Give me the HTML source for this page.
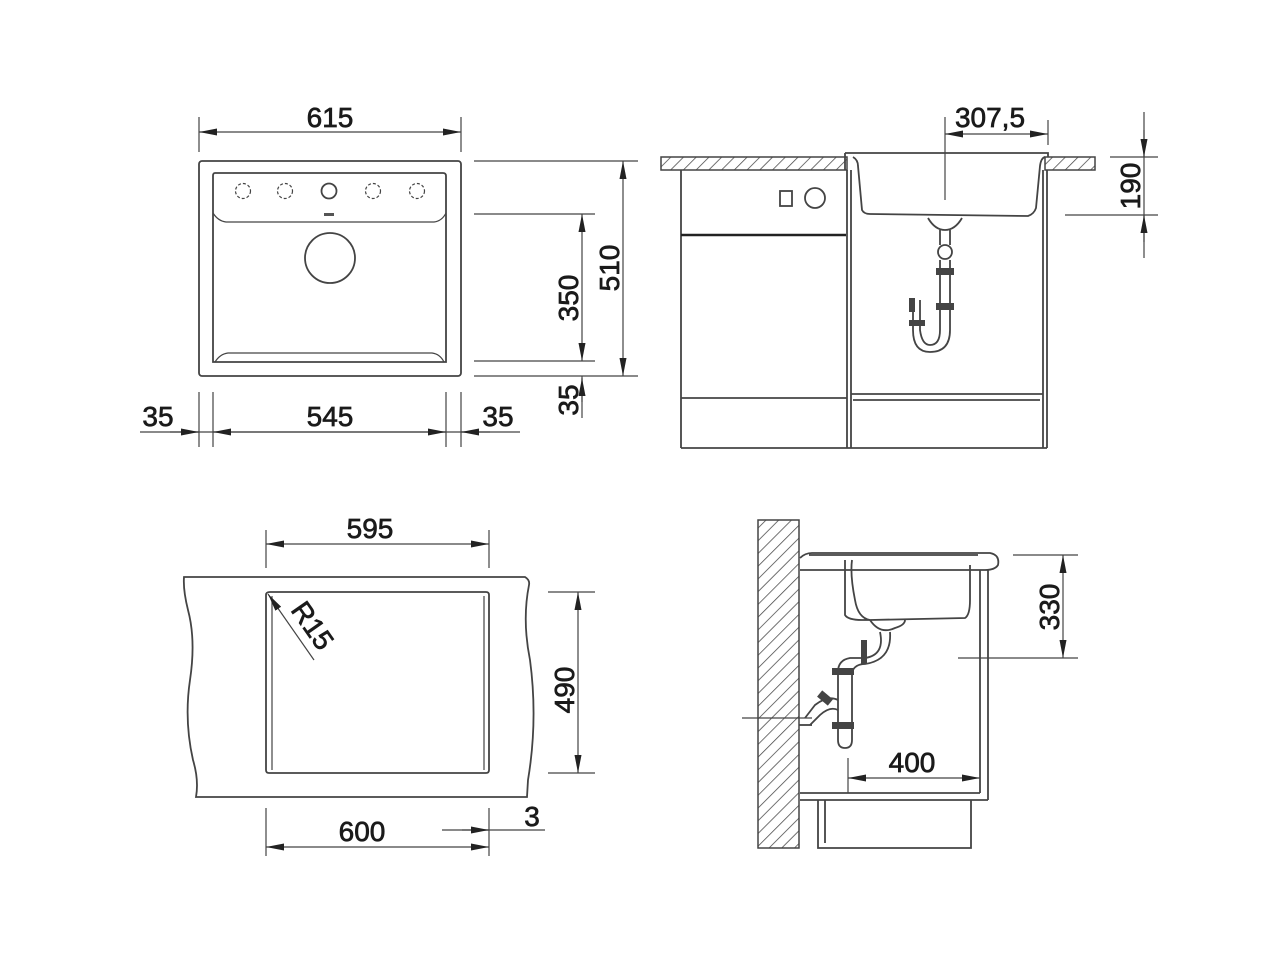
<!DOCTYPE html>
<html><head><meta charset="utf-8"><style>
html,body{margin:0;padding:0;background:#fff;}
svg{display:block;}
text{font-family:"Liberation Sans",Arial,sans-serif;font-size:28px;fill:#1a1a1a;stroke:#1a1a1a;stroke-width:0.7;}
.l{stroke:#444;stroke-width:1.8;fill:none;}
.t{stroke:#444;stroke-width:1.2;fill:none;}
</style></head><body>
<svg width="1280" height="975" viewBox="0 0 1280 975" xmlns="http://www.w3.org/2000/svg">
<defs>
<marker id="a" markerWidth="18" markerHeight="10" refX="18" refY="5" orient="auto-start-reverse" markerUnits="userSpaceOnUse">
<path d="M0,1.5 L18,5 L0,8.5 Z" fill="#222"/></marker>
<pattern id="h" width="9" height="9" patternUnits="userSpaceOnUse" patternTransform="rotate(45)">
<line x1="0" y1="0" x2="0" y2="9" stroke="#444" stroke-width="1.5"/></pattern>
</defs>

<!-- ===== TOP LEFT ===== -->
<rect class="l" x="199" y="161" width="262" height="215" rx="3"/>
<path class="l" d="M215,173 H443 Q446,173 446,176 V362 H213 V176 Q213,173 215,173 Z"/>
<path class="t" d="M213,213 Q218,221 226,222 H434 Q442,221 446,213"/>
<path class="t" d="M215,362 Q220,354 228,353 H432 Q440,354 444,362"/>
<g class="t" stroke-dasharray="3,2">
<circle cx="243" cy="191" r="7.5"/><circle cx="285" cy="191" r="7.5"/>
<circle cx="373" cy="191" r="7.5"/><circle cx="417" cy="191" r="7.5"/></g>
<circle class="l" cx="329" cy="191" r="7.5"/>
<rect x="324" y="213" width="10" height="3" fill="#555"/>
<circle class="l" cx="330" cy="258" r="25"/>
<!-- 615 -->
<line class="t" x1="199" y1="117" x2="199" y2="152"/><line class="t" x1="461" y1="117" x2="461" y2="152"/>
<line class="t" x1="199" y1="132" x2="461" y2="132" marker-start="url(#a)" marker-end="url(#a)"/>
<text x="330" y="127" text-anchor="middle">615</text>
<!-- right dims -->
<line class="t" x1="474" y1="161" x2="638" y2="161"/><line class="t" x1="474" y1="214" x2="595" y2="214"/>
<line class="t" x1="474" y1="361" x2="595" y2="361"/><line class="t" x1="474" y1="376" x2="638" y2="376"/>
<line class="t" x1="623" y1="161" x2="623" y2="376" marker-start="url(#a)" marker-end="url(#a)"/>
<line class="t" x1="582" y1="214" x2="582" y2="361" marker-start="url(#a)" marker-end="url(#a)"/>
<line class="t" x1="582" y1="376" x2="582" y2="418"/>
<line class="t" x1="582" y1="402" x2="582" y2="378" marker-end="url(#a)"/>
<text transform="translate(619,268) rotate(-90)" text-anchor="middle">510</text>
<text transform="translate(578,298) rotate(-90)" text-anchor="middle">350</text>
<text transform="translate(578,400) rotate(-90)" text-anchor="middle">35</text>
<!-- bottom dims -->
<line class="t" x1="199" y1="392" x2="199" y2="447"/><line class="t" x1="213" y1="392" x2="213" y2="447"/>
<line class="t" x1="446" y1="392" x2="446" y2="447"/><line class="t" x1="461" y1="392" x2="461" y2="447"/>
<line class="t" x1="140" y1="432" x2="520" y2="432"/>
<line class="t" x1="170" y1="432" x2="199" y2="432" marker-end="url(#a)"/>
<line class="t" x1="213" y1="432" x2="446" y2="432" marker-start="url(#a)" marker-end="url(#a)"/>
<line class="t" x1="490" y1="432" x2="461" y2="432" marker-end="url(#a)"/>
<text x="158" y="426" text-anchor="middle">35</text>
<text x="330" y="426" text-anchor="middle">545</text>
<text x="498" y="426" text-anchor="middle">35</text>

<!-- ===== TOP RIGHT ===== -->
<rect x="661" y="157" width="186" height="13" fill="url(#h)" stroke="#444" stroke-width="1.5"/>
<rect x="1045" y="157" width="50" height="13" fill="url(#h)" stroke="#444" stroke-width="1.5"/>
<path class="l" d="M845,153 H1048 V157 M845,153 V170"/>
<path class="l" d="M853,157 Q858,160 858,166 L862,210 Q864,214 870,214 L1028,216 Q1034,214 1036,208 L1040,166 Q1041,158 1045,157"/>
<path class="l" d="M928,218 Q935,230 945,230 Q955,230 962,218"/>
<path class="l" d="M940,230 V245 M950,230 V245"/>
<circle class="l" cx="945" cy="252" r="7"/>
<path class="l" d="M940,260 V330 Q940,345 930,345 Q922,345 920,330 V300 M950,260 V330 Q950,352 930,352 Q913,352 913,330 V300"/>
<g fill="#444"><rect x="936" y="268" width="18" height="7"/><rect x="936" y="303" width="18" height="7"/>
<rect x="909" y="320" width="16" height="6"/><rect x="909" y="298" width="6" height="14"/></g>
<line class="l" x1="681" y1="170" x2="681" y2="448"/><line class="l" x1="847" y1="170" x2="847" y2="448"/>
<line class="l" x1="851" y1="170" x2="851" y2="448"/><line class="l" x1="1043" y1="170" x2="1043" y2="448"/>
<line class="l" x1="1047" y1="170" x2="1047" y2="448"/>
<line x1="681" y1="235" x2="846" y2="235" stroke="#222" stroke-width="2.5"/>
<rect class="l" x="780" y="191" width="12" height="15"/><circle class="l" cx="815" cy="198" r="10"/>
<line class="l" x1="681" y1="398" x2="847" y2="398"/><line class="l" x1="681" y1="448" x2="1047" y2="448"/>
<line class="l" x1="851" y1="394" x2="1043" y2="394"/><line class="l" x1="853" y1="400" x2="1040" y2="400"/>
<!-- 307,5 -->
<line class="t" x1="945" y1="117" x2="945" y2="200"/><line class="t" x1="1048" y1="120" x2="1048" y2="145"/>
<line class="t" x1="945" y1="134" x2="1048" y2="134" marker-start="url(#a)" marker-end="url(#a)"/>
<text x="990" y="127" text-anchor="middle">307,5</text>
<!-- 190 -->
<line class="t" x1="1110" y1="157" x2="1158" y2="157"/><line class="t" x1="1065" y1="215" x2="1158" y2="215"/>
<line class="t" x1="1144" y1="112" x2="1144" y2="258"/>
<line class="t" x1="1144" y1="130" x2="1144" y2="157" marker-end="url(#a)"/>
<line class="t" x1="1144" y1="242" x2="1144" y2="215" marker-end="url(#a)"/>
<text transform="translate(1140,186) rotate(-90)" text-anchor="middle">190</text>

<!-- ===== BOTTOM LEFT ===== -->
<path class="l" d="M184,577 H525 Q530,580 529,585 Q522,620 530,660 Q538,720 528,780 L527,797 H196 Q199,780 193,760 Q184,720 190,680 Q196,640 188,610 Q183,590 184,577 Z"/>
<path class="l" d="M270,592 H486 Q489,592 489,595 V770 Q489,773 486,773 H269 Q266,773 266,770 V595 Q266,592 270,592 Z"/>
<path class="t" d="M272,596 V770 M484,596 V770"/>
<line class="t" x1="314" y1="660" x2="268" y2="594" marker-end="url(#a)"/>
<text transform="translate(290,610) rotate(55)" font-size="26">R15</text>
<!-- 595 -->
<line class="t" x1="266" y1="530" x2="266" y2="568"/><line class="t" x1="489" y1="530" x2="489" y2="568"/>
<line class="t" x1="266" y1="544" x2="489" y2="544" marker-start="url(#a)" marker-end="url(#a)"/>
<text x="370" y="538" text-anchor="middle">595</text>
<!-- 490 -->
<line class="t" x1="548" y1="592" x2="595" y2="592"/><line class="t" x1="548" y1="773" x2="595" y2="773"/>
<line class="t" x1="578" y1="592" x2="578" y2="773" marker-start="url(#a)" marker-end="url(#a)"/>
<text transform="translate(574,690) rotate(-90)" text-anchor="middle">490</text>
<!-- 600 / 3 -->
<line class="t" x1="266" y1="808" x2="266" y2="856"/><line class="t" x1="489" y1="808" x2="489" y2="856"/>
<line class="t" x1="266" y1="847" x2="489" y2="847" marker-start="url(#a)" marker-end="url(#a)"/>
<text x="362" y="841" text-anchor="middle">600</text>
<line class="t" x1="442" y1="830" x2="545" y2="830"/>
<line class="t" x1="462" y1="830" x2="489" y2="830" marker-end="url(#a)"/>
<text x="532" y="826" text-anchor="middle">3</text>

<!-- ===== BOTTOM RIGHT ===== -->
<rect x="758" y="520" width="41" height="328" fill="url(#h)" stroke="#444" stroke-width="1.5"/>
<path class="l" d="M809,555 H978 M800,558 Q805,553 812,553 H990 Q1000,555 998,565 Q995,570 985,570 H800"/>
<path class="l" d="M845,560 V615 Q848,620 862,620 H870 M852,560 Q850,575 855,600 Q858,618 870,620 L965,618 Q970,615 970,600 V565"/>
<path class="l" d="M870,620 Q880,635 895,628 Q905,625 905,620"/>
<path class="l" d="M880,632 Q885,655 865,658 H850 Q838,660 838,672 V740 Q838,748 845,748 Q852,748 852,740 V672 Q855,664 865,664 Q892,660 890,632"/>
<g fill="#444"><rect x="861" y="640" width="6" height="24"/><rect x="832" y="668" width="22" height="7"/>
<rect x="832" y="722" width="22" height="7"/><rect x="818" y="694" width="14" height="8" transform="rotate(40 825 698)"/></g>
<path class="l" d="M838,700 Q828,695 815,705 L805,718 M838,710 Q830,706 820,715 L810,725"/>
<line class="t" x1="742" y1="718" x2="812" y2="718"/>
<path class="l" d="M799,725 H812"/>
<line class="l" x1="980" y1="570" x2="980" y2="793"/><line class="l" x1="988" y1="570" x2="988" y2="800"/>
<line class="l" x1="800" y1="793" x2="980" y2="793"/><line class="l" x1="800" y1="800" x2="988" y2="800"/>
<path class="l" d="M818,800 V848 H971 V800 M825,800 V843"/>
<!-- 400 -->
<line class="t" x1="848" y1="758" x2="848" y2="793"/>
<line class="t" x1="848" y1="778" x2="980" y2="778" marker-start="url(#a)" marker-end="url(#a)"/>
<text x="912" y="772" text-anchor="middle">400</text>
<!-- 330 -->
<line class="t" x1="1013" y1="555" x2="1078" y2="555"/><line class="t" x1="958" y1="658" x2="1078" y2="658"/>
<line class="t" x1="1063" y1="555" x2="1063" y2="658" marker-start="url(#a)" marker-end="url(#a)"/>
<text transform="translate(1059,607) rotate(-90)" text-anchor="middle">330</text>
</svg>
</body></html>
